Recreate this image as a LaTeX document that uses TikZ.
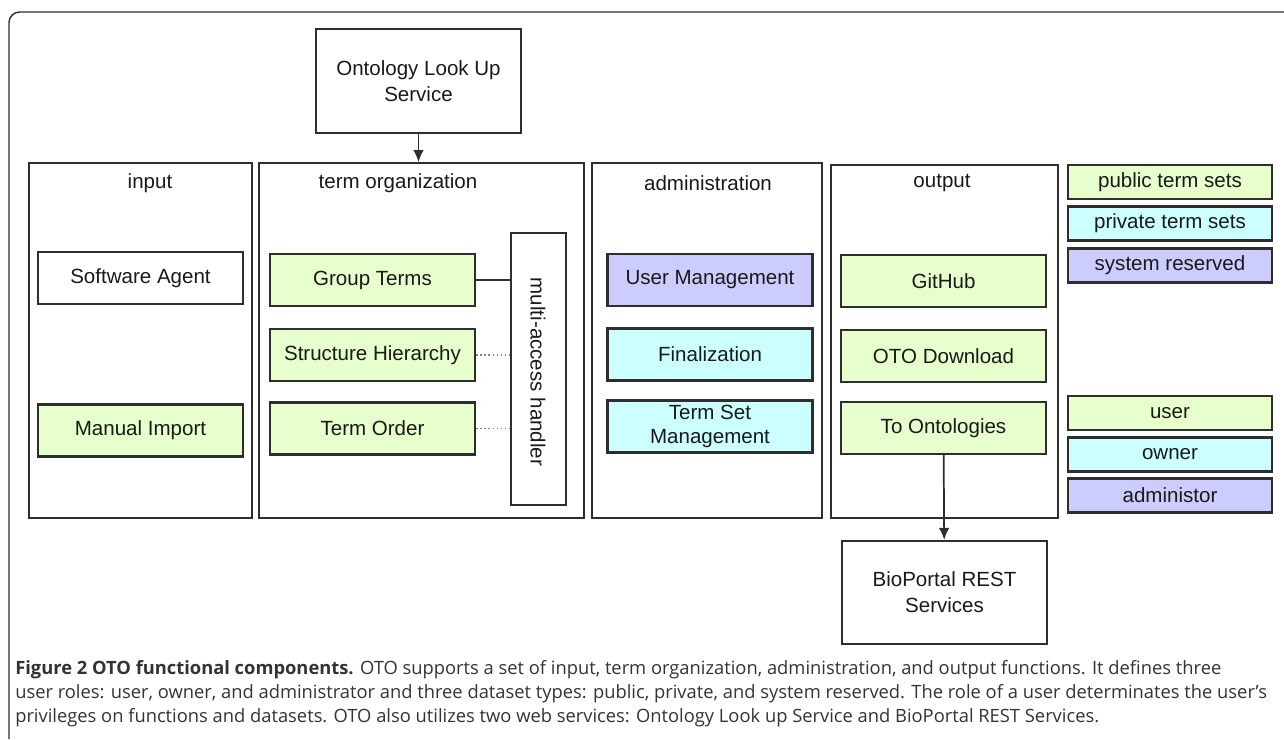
\documentclass[tikz,border=0pt]{standalone}
\usepackage{fontspec}
\setmainfont{Liberation Sans}
\newfontfamily\capfont{Open Sans}
\usetikzlibrary{arrows.meta,fit}
\definecolor{pubgreen}{HTML}{E6FFCC}
\definecolor{privcyan}{HTML}{CCFFFF}
\definecolor{sysviolet}{HTML}{CCCCFF}
\definecolor{edge}{HTML}{2E2E2E}
\begin{document}
\begin{tikzpicture}[x=0.75pt,y=-0.75pt,
  every node/.style={font=\fontsize{15.4}{19.5}\selectfont,text=black!90},
  panel/.style={draw=edge,line width=1.4pt,inner sep=0pt},
  fnbox/.style={draw=edge,line width=1.6pt,minimum width=153.75pt,minimum height=39pt,inner sep=0pt,align=center},
  keybox/.style={draw=edge,line width=1.6pt,minimum width=153pt,minimum height=25.5pt,inner sep=0pt},
  service/.style={draw=edge,line width=1.5pt,minimum width=154pt,minimum height=77.5pt,inner sep=0pt,align=center},
  link/.style={draw=edge,line width=1.3pt},
  dots/.style={draw=gray,dotted,line width=1.1pt},
  captxt/.style={anchor=base west,inner sep=0pt,font=\capfont\fontsize{13.75}{16}\selectfont,text=black!80}
]
\useasboundingbox (0,0) rectangle (1284,739);
\draw[edge,line width=1.1pt,rounded corners=8pt] (9,739) -- (9,12) -- (1284,12);

% services
\node[service] (onto) at (418.5,81) {Ontology Look Up\\Service};
\node[service] (bioportal) at (944.5,592.5) {BioPortal REST\\Services};

% panels
\node[panel,fit={(29,163) (252,518)}] (input) {};
\node[panel,fit={(259,163) (584,518)}] (termorg) {};
\node[panel,fit={(592,163) (822,518)}] (admin) {};
\node[panel,fit={(831,165) (1058,518)}] (output) {};
\node (inputlbl) at (150,183) {input};
\node (termorglbl) at (398,183) {term organization};
\node (adminlbl) at (708,183) {administration};
\node (outputlbl) at (942,183) {output};

% input
\node[fnbox] (agent) at (140.5,278) {Software Agent};
\node[fnbox,fill=pubgreen] (manual) at (140.5,430.5) {Manual Import};

% term organization
\node[fnbox,fill=pubgreen] (group) at (372.5,280) {Group Terms};
\node[fnbox,fill=pubgreen] (hier) at (372.5,355) {Structure Hierarchy};
\node[fnbox,fill=pubgreen] (order) at (372.5,428.5) {Term Order};
\node[panel,line width=1.5pt,fit={(511,233) (566,505)}] (handler) {};
\node[rotate=-90] (handlerlbl) at (538,372) {multi-access handler};
\draw[link] (group) -- (group -| handler.west);
\draw[dots] (hier) -- (hier -| handler.west);
\draw[dots] (order) -- (order -| handler.west);

% administration
\node[fnbox,fill=sysviolet] (usermgmt) at (710,280) {User Management};
\node[fnbox,fill=privcyan] (final) at (710,354.5) {Finalization};
\node[fnbox,fill=privcyan,font=\fontsize{15.4}{17.5}\selectfont] (setmgmt) at (710,426.5) {Term Set\\Management};

% output
\node[fnbox,fill=pubgreen] (github) at (943.5,281) {GitHub};
\node[fnbox,fill=pubgreen] (download) at (943.5,356) {OTO Download};
\node[fnbox,fill=pubgreen] (toonto) at (943.5,428) {To Ontologies};

% legend
\node[keybox,fill=pubgreen] (public) at (1170,182) {public term sets};
\node[keybox,fill=privcyan] (private) at (1170,223.5) {private term sets};
\node[keybox,fill=sysviolet] (system) at (1170,265.5) {system reserved};
\node[keybox,fill=pubgreen] (user) at (1170,413) {user};
\node[keybox,fill=privcyan] (owner) at (1170,454.5) {owner};
\node[keybox,fill=sysviolet] (adminkey) at (1170,495.5) {administor};

\draw[link,-{Latex[length=9pt,width=8pt]}] (onto) -- (onto |- termorg.north);
\draw[link,-{Latex[length=9pt,width=8pt]}] (toonto) -- (bioportal);

% caption
\node[captxt] (cap1) at (15,674) {\textbf{Figure 2 OTO functional components.} OTO supports a set of input, term organization, administration, and output functions. It defines three};
\node[captxt] (cap2) at (15,698) {user roles: user, owner, and administrator and three dataset types: public, private, and system reserved. The role of a user determinates the user’s};
\node[captxt] (cap3) at (15,722) {privileges on functions and datasets. OTO also utilizes two web services: Ontology Look up Service and BioPortal REST Services.};
\end{tikzpicture}
\end{document}
